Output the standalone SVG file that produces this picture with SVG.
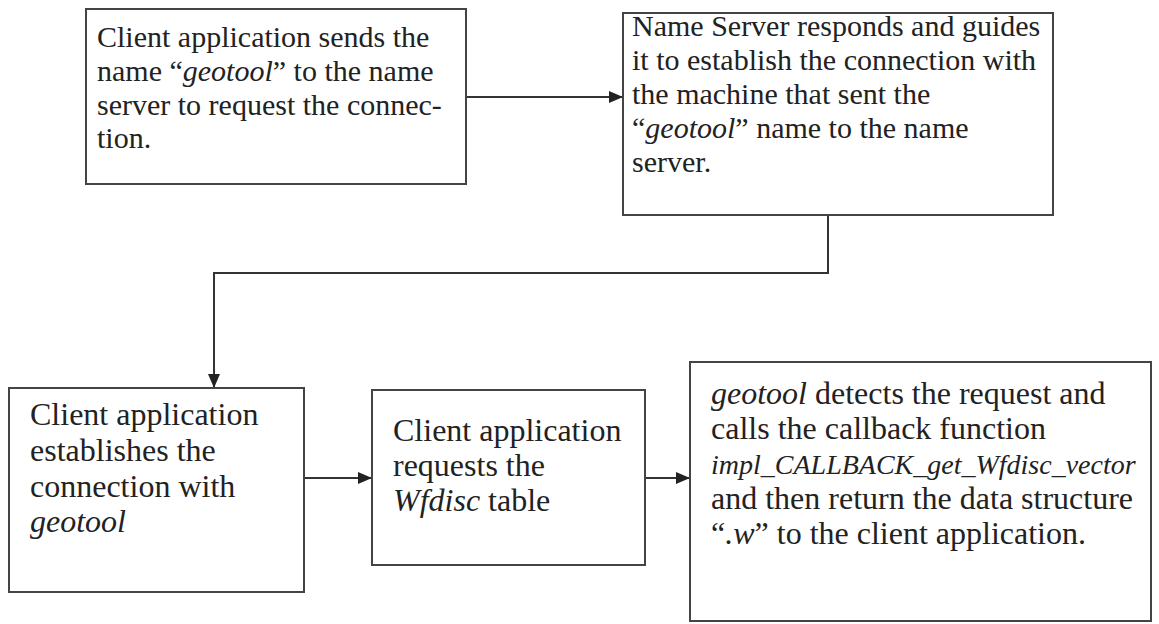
<svg xmlns="http://www.w3.org/2000/svg" width="1159" height="624" viewBox="0 0 1159 624">
<style>
.box{fill:#fff;stroke:#444;stroke-width:2}
.t{font-family:"Liberation Serif","Times New Roman",serif;font-size:30px;fill:#222}
.b{font-size:32px}
.i{font-style:italic}
.s{font-size:28px}
.c{fill:none;stroke:#333;stroke-width:2}
</style>
<defs>
<marker id="ah" markerWidth="14" markerHeight="12" refX="13" refY="6" orient="auto" markerUnits="userSpaceOnUse">
<path d="M0,0 L14,6 L0,12 Z" fill="#222"/>
</marker>
</defs>
<rect width="1159" height="624" fill="#fff"/>
<g id="connectors">
<line class="c" x1="466" y1="97" x2="622" y2="97" marker-end="url(#ah)"/>
<polyline class="c" points="828,215 828,273 214,273 214,387" marker-end="url(#ah)"/>
<line class="c" x1="304" y1="478" x2="371" y2="478" marker-end="url(#ah)"/>
<line class="c" x1="645" y1="478" x2="689" y2="478" marker-end="url(#ah)"/>
</g>
<g id="n1">
<rect class="box" x="86" y="9" width="380" height="175"/>
<text class="t" x="97" y="47">Client application sends the</text>
<text class="t" x="97" y="81">name “<tspan class="i">geotool</tspan>” to the name</text>
<text class="t" x="97" y="115">server to request the connec-</text>
<text class="t" x="97" y="148">tion.</text>
</g>
<g id="n2">
<rect class="box" x="623" y="13" width="430" height="202"/>
<text class="t" x="632" y="36">Name Server responds and guides</text>
<text class="t" x="632" y="70">it to establish the connection with</text>
<text class="t" x="632" y="104">the machine that sent the</text>
<text class="t" x="632" y="138">“<tspan class="i">geotool</tspan>” name to the name</text>
<text class="t" x="632" y="172">server.</text>
</g>
<g id="n3">
<rect class="box" x="9" y="388" width="295" height="204"/>
<text class="t b" x="30" y="425">Client application</text>
<text class="t b" x="30" y="461">establishes the</text>
<text class="t b" x="30" y="497">connection with</text>
<text class="t b i" x="30" y="532">geotool</text>
</g>
<g id="n4">
<rect class="box" x="372" y="390" width="273" height="175"/>
<text class="t b" x="393" y="441">Client application</text>
<text class="t b" x="393" y="476">requests the</text>
<text class="t b" x="393" y="511"><tspan class="i">Wfdisc</tspan> table</text>
</g>
<g id="n5">
<rect class="box" x="690" y="362" width="461" height="259"/>
<text class="t b" x="711" y="404"><tspan class="i">geotool</tspan> detects the request and</text>
<text class="t b" x="711" y="439">calls the callback function</text>
<text class="t i s" x="711" y="474">impl_CALLBACK_get_Wfdisc_vector</text>
<text class="t b" x="711" y="509">and then return the data structure</text>
<text class="t b" x="711" y="544">“<tspan class="i">.w</tspan>” to the client application.</text>
</g>
</svg>
